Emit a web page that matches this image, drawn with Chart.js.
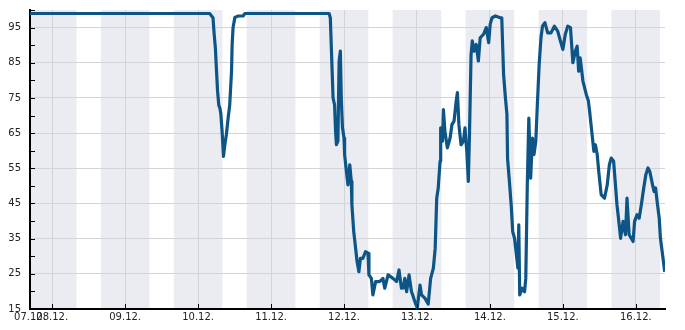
<!DOCTYPE html>
<html>
<head>
<meta charset="utf-8">
<script src="https://cdn.jsdelivr.net/npm/chart.js@4/dist/chart.umd.min.js"></script>
<style>
  body { margin: 0; background: #fff; }
</style>
</head>
<body>
<canvas id="myChart" width="685" height="330"></canvas>
<script>
// hours counted from 07.12. 00:00
const hours = [
  16.7, 75.8, 76.9, 77.3, 77.7, 78.0, 78.4, 78.8, 79.2, 79.5, 79.9, 80.35, 80.8, 81.3, 81.9, 82.4,
  83.0, 83.2, 83.5, 84.1, 85.2, 86.8, 87.4, 115.1,
  115.5, 115.8, 116.1, 116.4, 116.9, 117.2, 117.5, 118.0, 118.2, 118.4, 118.8, 119.1, 119.5, 120.0,
  120.2, 120.8, 121.3, 121.9, 122.4, 122.6, 123.2, 123.7, 124.3, 124.9, 125.4, 126.2, 127.1, 127.9,
  128.2, 129.0, 129.5, 130.4, 131.7, 132.8, 133.4, 134.5, 136.1, 137.3, 138.1, 138.9, 139.5, 140.0,
  140.6, 141.4, 141.7, 142.2, 142.6, 143.3, 144.1, 145.0, 145.5, 146.6, 147.7, 148.5, 149.4, 150.0,
  150.5, 151.0, 151.6, 151.8, 152.4, 152.7, 153.2, 154.0, 154.9, 155.5, 156.2, 156.9, 157.3, 157.8,
  158.5, 159.3, 159.8, 160.4, 160.9, 161.3, 161.8, 162.2, 162.8, 163.5, 164.2, 164.8, 165.9, 166.8,
  167.6, 168.1, 168.7, 169.8, 171.4, 171.9, 172.5, 173.1, 173.6, 173.8, 174.5, 175.0, 175.5, 176.1,
  176.6, 177.2, 177.5, 177.8, 178.6, 179.4, 179.8, 180.3, 180.8, 181.4, 182.0, 182.5, 183.1, 183.6,
  184.2, 184.8, 185.3, 186.1, 187.0, 188.1, 189.2, 190.3, 191.2, 192.0, 192.8, 193.6, 194.5, 195.3,
  196.1, 196.7, 197.2, 197.7, 198.6, 199.7, 200.4, 200.8, 201.5, 202.2, 202.7, 203.3, 203.8, 204.6,
  205.7, 206.6, 207.3, 207.9, 208.7, 209.3, 209.8, 210.3, 211.0, 211.8, 212.6, 213.1, 213.8, 214.5,
  215.1, 215.6, 216.4, 217.1, 217.8, 218.6, 219.3, 220.0, 220.6, 221.5, 222.0, 222.5, 223.0, 223.7,
  224.1, 224.8, 225.5
];
const values = [
  99, 99, 97.8, 93, 89, 83.7, 77, 73, 72, 70.3, 65.4, 58.4, 61.7, 64.6, 69.4, 73,
  82.6, 90.2, 95, 97.9, 98.3, 98.3, 99, 99,
  97.8, 90.2, 82.6, 75, 73, 66, 61.7, 62.7, 75, 85.5, 88.3, 75, 66.5, 63.6,
  58.9, 54.1, 50.3, 56, 51.3, 44.6, 37, 33.2, 28.5, 25.6, 29.4, 29.4, 31.3, 30.8,
  24.7, 23.7, 19, 22.8, 22.8, 23.7, 20.9, 24.7, 23.7, 22.8, 26.1, 20.9, 21, 23.7,
  19.9, 24.7, 24.7, 19.9, 19, 17.1, 15.3, 21.8, 19, 18.1, 16.4, 23.7, 26.6, 32.3,
  46.5, 49.4, 57, 66.5, 62.7, 71.7, 65.5, 60.8, 63.6, 67.4, 68.4, 74.1, 76.5, 67.4,
  61.7, 62.7, 66.5, 59.8, 51.3, 65.5, 87.4, 91.2, 88.3, 90.2, 85.5, 92.1, 93.1, 95,
  90.7, 96, 97.8, 98.3, 97.8, 97.8, 81.7, 75, 70.3, 57.9, 50.3, 44.6, 37, 35.1,
  31.3, 26.6, 38.9, 19, 20.9, 19.9, 23.7, 50.3, 69.3, 52.2, 63.6, 58.9, 62.7, 73,
  84.5, 92.1, 95.4, 96.4, 93.5, 93.5, 95.4, 94, 91.2, 88.8, 93.1, 95.4, 95, 85,
  88.3, 89.7, 82.6, 86.4, 79.8, 76, 74.1, 71.2, 65.5, 59.8, 61.7, 58.9, 54.1, 47.5,
  46.5, 50.3, 56, 57.9, 57, 50.3, 44.6, 40.8, 35.1, 39.9, 36.1, 46.5, 36.1, 35.1,
  34.2, 39.9, 41.8, 40.8, 44.6, 49.4, 53.2, 55.1, 54.1, 50.3, 48.4, 49.4, 45.6, 40.8,
  35.1, 30.4, 25.6
];
const tickHours = [16.7, 24, 48, 72, 96, 120, 144, 168, 192, 216];
const tickLabels = ['07.12.', '08.12.', '09.12.', '10.12.', '11.12.', '12.12.', '13.12.', '14.12.', '15.12.', '16.12.'];
// nights shaded 16:00 - 08:00
const nightStarts = [-8, 16, 40, 64, 88, 112, 136, 160, 184, 208];

const xMin = 16.7, xMax = 225.6;

const shadePlugin = {
  id: 'shade',
  beforeDraw(chart) {
    const {ctx, chartArea: a, scales: {x}} = chart;
    ctx.save();
    ctx.fillStyle = '#ebecf1';
    nightStarts.forEach(s => {
      const x1 = Math.max(a.left, x.getPixelForValue(s));
      const x2 = Math.min(a.right, x.getPixelForValue(s + 16));
      if (x2 > x1) ctx.fillRect(x1, a.top, x2 - x1, a.bottom - a.top);
    });
    ctx.restore();
  },
  afterDraw(chart) {
    const {ctx, chartArea: a, scales: {x, y}} = chart;
    ctx.save();
    ctx.strokeStyle = '#000';
    ctx.lineWidth = 1;
    ctx.beginPath();
    for (let v = 15; v <= 100; v += 5) {
      const py = Math.round(y.getPixelForValue(v)) + 0.5;
      ctx.moveTo(a.left, py);
      ctx.lineTo(a.left + 5, py);
    }
    tickHours.slice(1).forEach(h => {
      const px = Math.round(x.getPixelForValue(h)) + 0.5;
      ctx.moveTo(px, a.bottom);
      ctx.lineTo(px, a.bottom - 5);
    });
    ctx.stroke();
    ctx.restore();
  }
};

const chart = new Chart(document.querySelector('#myChart'), {
  type: 'line',
  data: {
    datasets: [{
      data: hours.map((h, i) => ({x: h, y: values[i]})),
      borderColor: '#0c5586',
      borderWidth: 3.2,
      borderJoinStyle: 'round',
      pointRadius: 0,
      tension: 0,
      fill: false
    }]
  },
  options: {
    responsive: false,
    animation: false,
    layout: {padding: {top: 10, right: 20, left: 0, bottom: 0}},
    plugins: {legend: {display: false}, tooltip: {enabled: false}},
    scales: {
      x: {
        type: 'linear',
        min: xMin,
        max: xMax,
        afterBuildTicks: scale => { scale.ticks = tickHours.map(v => ({value: v})); },
        afterFit: scale => {
          scale.height = 21;
          scale.paddingLeft = 0;
          scale.paddingRight = 0;
        },
        ticks: {
          autoSkip: false,
          maxRotation: 0,
          padding: 2,
          color: '#222',
          font: {family: 'DejaVu Sans', size: 10},
          callback: (value, index) => tickLabels[index]
        },
        grid: {
          drawTicks: false,
          color: ctx => ctx.index === 0 ? 'transparent' : '#d3d4d8',
          lineWidth: 1
        },
        border: {color: '#000', width: 2}
      },
      y: {
        min: 15,
        max: 100,
        afterBuildTicks: scale => {
          const t = [];
          for (let v = 15; v <= 100; v += 5) t.push({value: v});
          scale.ticks = t;
        },
        afterFit: scale => {
          scale.width = 30;
          scale.paddingTop = 0;
          scale.paddingBottom = 0;
        },
        ticks: {
          padding: 9,
          color: '#222',
          font: {family: 'DejaVu Sans', size: 10},
          callback: value => ((value - 15) % 10 === 0 ? String(value) : '')
        },
        grid: {
          drawTicks: false,
          color: ctx => (ctx.tick && (ctx.tick.value - 15) % 10 === 0 && ctx.tick.value > 15) ? '#d3d4d8' : 'transparent',
          lineWidth: 1
        },
        border: {color: '#000', width: 2}
      }
    }
  },
  plugins: [shadePlugin]
});
</script>
</body>
</html>
